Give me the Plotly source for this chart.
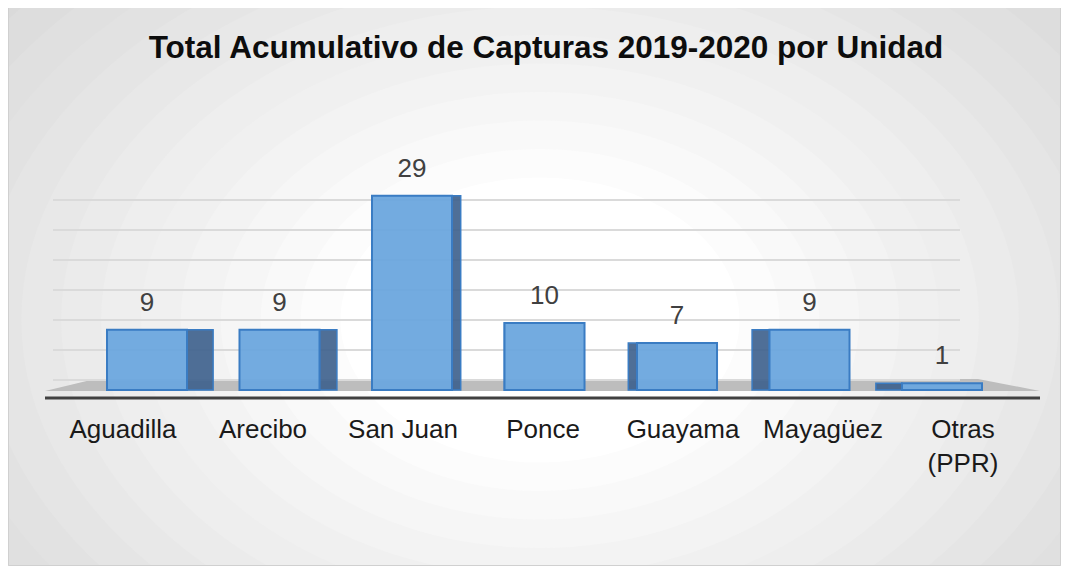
import plotly.graph_objects as go

unidades = ["Aguadilla", "Arecibo", "San Juan", "Ponce", "Guayama", "Mayagüez", "Otras<br>(PPR)"]
capturas = [9, 9, 29, 10, 7, 9, 1]
grid_ticks = [0, 5, 10, 15, 20, 25, 30, 35]

OFF = 8                     # page body margin
W, H = 1061, 565
L, R, T, B = 53, 1033, 169, 398   # plot area, page pixels
BAR_W = 0.604


def px(x):
    return (x - L) / (R - L)


def py(y):
    return (B - y) / (B - T)


fig = go.Figure()

# gridlines live on their own (empty) subplot so they sit behind the bars
fig.add_trace(go.Scatter(x=[0], y=[0], xaxis="x", yaxis="y", mode="markers",
                         marker=dict(opacity=0), hoverinfo="skip", showlegend=False))

# category labels sit on their own, wider axis
n = len(unidades)
fig.add_trace(go.Scatter(x=unidades, y=[0] * n, xaxis="x2", yaxis="y2", mode="markers",
                         marker=dict(opacity=0), hoverinfo="skip", showlegend=False))

# fake 3d side faces (perspective: right side on the left bars, left side on the right bars)
side_w, side_off = [], []
for i in range(n):
    k = i - (n - 1) / 2
    w = max(abs(k) * 8.7 / 132.5, 0.001)
    side_w.append(w)
    side_off.append(BAR_W / 2 if k < 0 else -BAR_W / 2 - w)
fig.add_trace(go.Bar(
    x=unidades, y=capturas, xaxis="x3", yaxis="y2", width=side_w, offset=side_off,
    marker=dict(color="rgba(60,95,140,0.9)", line=dict(color="#3a7cc3", width=1.5)),
    hoverinfo="skip", showlegend=False,
))
fig.add_trace(go.Bar(
    x=unidades, y=capturas, xaxis="x3", yaxis="y2", width=BAR_W,
    marker=dict(color="rgba(108,166,222,0.95)", line=dict(color="#3a7cc3", width=2)),
    hoverinfo="x+y", showlegend=False,
))
fig.add_trace(go.Scatter(
    x=unidades, y=[v + 3.8 for v in capturas], xaxis="x3", yaxis="y2",
    mode="text", text=[str(v) for v in capturas], cliponaxis=False,
    textfont=dict(size=26, color="#404040", family="Liberation Sans, Arial"),
    hoverinfo="skip", showlegend=False,
))

# radial background + frame
shapes = [dict(type="rect", xref="paper", yref="paper", x0=px(8), x1=px(1061), y0=py(566), y1=py(7),
               fillcolor="#d2d2d2", line=dict(width=0), layer="below")]
steps = 16
for i in range(steps):
    r = 760 - i * 38
    g = int(0xd2 + (0xff - 0xd2) * (i + 1) / steps)
    col = "rgb({0},{0},{0})".format(g)
    shapes.append(dict(type="circle", xref="paper", yref="paper",
                       x0=px(540 - r * 1.05), x1=px(540 + r * 1.05),
                       y0=py(320 + r * 0.75), y1=py(320 - r * 0.75),
                       fillcolor=col, line=dict(width=0), layer="below"))
# floor
shapes.append(dict(type="path", xref="paper", yref="paper", layer="below",
                   path="M {} {} L {} {} L {} {} L {} {} Z".format(px(45), py(391), px(1040), py(391),
                                                                 px(978), py(379), px(95), py(379)),
                   fillcolor="#bdbdbd", line=dict(width=0)))
# baseline
shapes.append(dict(type="line", xref="paper", yref="paper", x0=px(45), x1=px(1040), y0=py(398), y1=py(398),
                   line=dict(color="#404040", width=3)))

# clip the outside of the frame back to white, then the frame itself
for x0, x1, y0, y1 in [(0, 8, 0, 600), (1061, 1100, 0, 600), (0, 1100, 0, 7), (0, 1100, 566, 600)]:
    shapes.append(dict(type="rect", xref="paper", yref="paper", x0=px(x0), x1=px(x1), y0=py(y1), y1=py(y0),
                       fillcolor="white", line=dict(width=0), layer="below"))
shapes.append(dict(type="rect", xref="paper", yref="paper", x0=px(8.5), x1=px(1060.5), y0=py(565.5), y1=py(7.5),
                   fillcolor="rgba(0,0,0,0)", line=dict(color="#d0d0d0", width=1), layer="below"))

fig.update_layout(
    width=W, height=H,
    margin=dict(l=L - OFF, r=W + OFF - R, t=T - OFF, b=H + OFF - B),
    paper_bgcolor="white", plot_bgcolor="rgba(0,0,0,0)",
    font=dict(family="Liberation Sans, Arial", color="#1a1a1a"),
    title=dict(text="<b>Total Acumulativo de Capturas 2019-2020 por Unidad</b>",
               x=(546 - OFF) / W, xanchor="center", y=1 - (47 - OFF) / H, yanchor="middle",
               font=dict(size=31.5, color="#0d0d0d")),
    xaxis=dict(domain=[0, px(960)], visible=False, range=[0, 1]),
    yaxis=dict(domain=[0, 1], range=[-(398 - 380) / 6, (380 - 169) / 6], tickvals=grid_ticks,
               showticklabels=False, showgrid=True, gridcolor="#dadada", gridwidth=2,
               zeroline=False, showline=False),
    xaxis2=dict(domain=[0, 1], anchor="y2", showgrid=False, showline=False, range=[-0.5, n - 0.5],
                ticks="outside", ticklen=8, tickcolor="rgba(0,0,0,0)",
                tickfont=dict(size=26, color="#1a1a1a")),
    xaxis3=dict(domain=[px(80.75), px(1008.25)], anchor="y2", visible=False, range=[-0.5, n - 0.5]),
    yaxis2=dict(domain=[0, 1], anchor="x2", range=[-8 / 6.7, (390 - 169) / 6.7],
                visible=False, showgrid=False, zeroline=False),
    shapes=shapes,
    barmode="overlay",
)

fig.write_html("out.html")
